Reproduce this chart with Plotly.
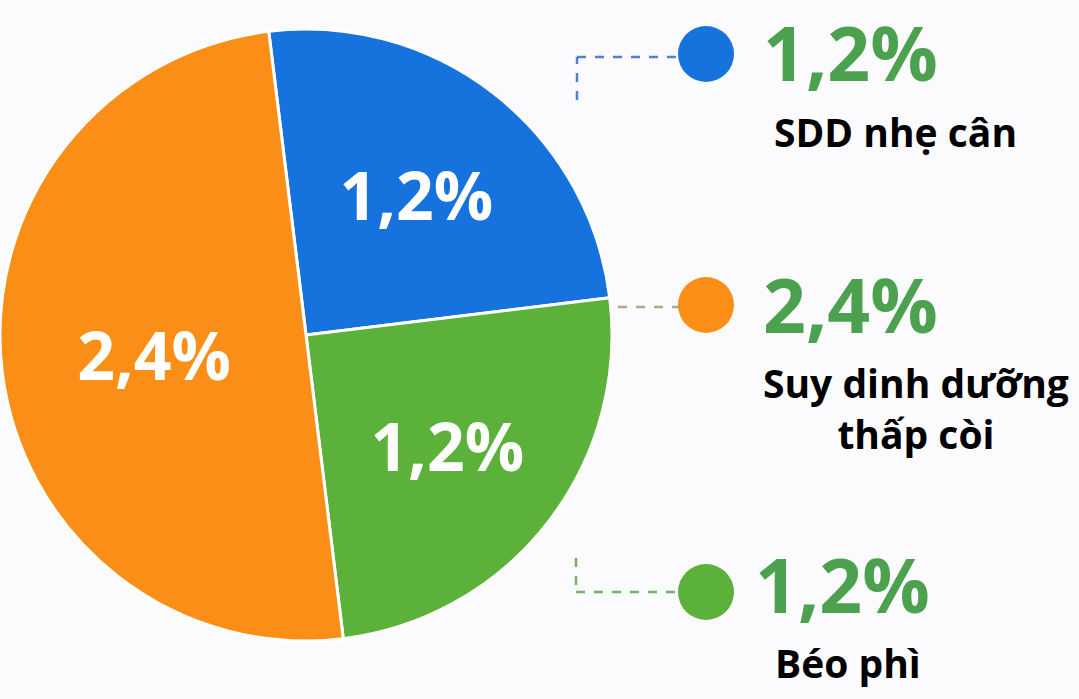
import plotly.graph_objects as go

# data
categories = ["SDD nhẹ cân", "Suy dinh dưỡng<br>thấp còi", "Béo phì"]
values = [1.2, 2.4, 1.2]
colors = ["#1672DC", "#FA8E17", "#5BB13A"]
connector_colors = ["#2F6FC8", "#A29C74", "#5BA84A"]

# pie slice order (clockwise from the top): blue, green, orange
pie_order = [0, 2, 1]

W, H = 1079, 699
FONT = "Open Sans"
TEXT_GREEN = "#4CA14E"
BG = "#FBFBFD"


def pct(v):
    return f"{v:.1f}".replace(".", ",") + "%"


# pie geometry in pixels
cx, cy, r = 306, 335, 306

fig = go.Figure()
fig.add_trace(
    go.Pie(
        labels=[categories[i] for i in pie_order],
        values=[values[i] for i in pie_order],
        text=[pct(values[i]) for i in pie_order],
        textinfo="text",
        textposition="inside",
        insidetextorientation="horizontal",
        textfont={"family": FONT, "size": 66, "color": "white", "weight": "bold"},
        marker={"colors": [colors[i] for i in pie_order], "line": {"color": "white", "width": 3}},
        sort=False,
        direction="clockwise",
        rotation=-7,
        hoverinfo="label+text",
        showlegend=False,
        domain={"x": [max(0, (cx - r) / W), (cx + r) / W],
                "y": [1 - (cy + r) / H, 1 - (cy - r) / H]},
    )
)

# side legend: dot + dashed connector + value + category
dot_x = 706
dot_y = [54, 305, 592]
fig.add_trace(
    go.Scatter(
        x=[dot_x] * 3,
        y=dot_y,
        mode="markers",
        marker={"size": 56, "color": colors, "line": {"width": 0}},
        hoverinfo="skip",
        showlegend=False,
    )
)

# connectors
conn = [
    [(577, 100), (577, 57), (680, 57)],
    [(618, 307), (680, 307)],
    [(576, 558), (576, 592), (680, 592)],
]
for pts, col in zip(conn, connector_colors):
    for (x0, y0), (x1, y1) in zip(pts[:-1], pts[1:]):
        fig.add_shape(
            type="line", x0=x0, y0=y0, x1=x1, y1=y1, xref="x", yref="y",
            line={"color": col, "width": 2.5, "dash": "dash"}, opacity=0.85,
        )

value_pos = [(850, 52), (850, 304), (842, 584)]
label_pos = [(895, 131), (916, 408), (848, 662)]
for i in range(3):
    vx, vy = value_pos[i]
    fig.add_annotation(
        x=vx, y=vy, xref="x", yref="y", text=pct(values[i]), showarrow=False,
        font={"family": FONT, "size": 75, "color": TEXT_GREEN, "weight": "bold"},
    )
    lx, ly = label_pos[i]
    fig.add_annotation(
        x=lx, y=ly, xref="x", yref="y", text=categories[i], showarrow=False,
        font={"family": FONT, "size": 39, "color": "black", "weight": "bold"},
        align="center",
    )

fig.update_xaxes(range=[0, W], visible=False, fixedrange=True)
fig.update_yaxes(range=[H, 0], visible=False, fixedrange=True)
fig.update_layout(
    width=W,
    height=H,
    margin={"l": 0, "r": 0, "t": 0, "b": 0},
    paper_bgcolor=BG,
    plot_bgcolor=BG,
)
fig.write_html(
    "out.html",
    config={"displayModeBar": False},
    post_script="document.body.style.margin='0px'; document.body.style.background='#FBFBFD';",
)
